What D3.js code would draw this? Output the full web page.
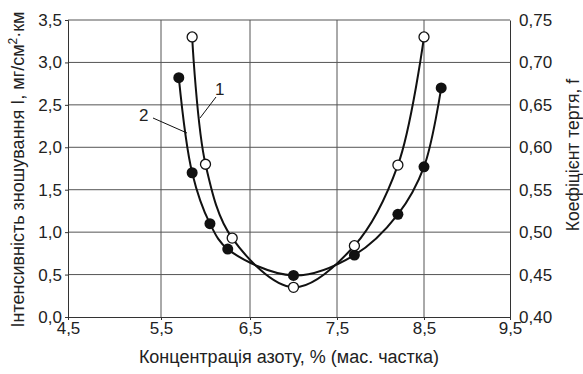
<!DOCTYPE html>
<html>
<head>
<meta charset="utf-8">
<script src="https://cdn.jsdelivr.net/npm/d3@7"></script>
<style>
  body { margin: 0; background: #fff; }
  text { font-family: "Liberation Sans", Arial, sans-serif; fill: #222; }
</style>
</head>
<body>
<svg id="chart" width="583" height="374"></svg>
<script>
// data
const xTicks = [4.5, 5.5, 6.5, 7.5, 8.5, 9.5];
const yTicks = [0, 0.5, 1.0, 1.5, 2.0, 2.5, 3.0, 3.5];
const fTicks = [0.40, 0.45, 0.50, 0.55, 0.60, 0.65, 0.70, 0.75];

// curve 1 (open circles)
const conc1 = [5.85, 6.0, 6.3, 7.0, 7.7, 8.2, 8.5];
const wear1 = [3.30, 1.80, 0.93, 0.35, 0.84, 1.79, 3.30];
// curve 2 (filled circles)
const conc2 = [5.7, 5.85, 6.05, 6.25, 7.0, 7.7, 8.2, 8.5, 8.7];
const wear2 = [2.82, 1.70, 1.10, 0.80, 0.49, 0.73, 1.21, 1.77, 2.70];

const svg = d3.select("#chart");
const margin = { left: 68, right: 73, top: 20, bottom: 57 };
const width = 583, height = 374;
const fmt = d => d3.format(".1f")(d).replace(".", ",");
const fmt2 = d => d3.format(".2f")(d).replace(".", ",");

// the source axis is not evenly spaced, so piecewise mapping
let x = d3.scaleLinear()
  .domain(xTicks)
  .range([68, 161, 250, 337, 424, 510]);
let y = d3.scaleLinear().domain([0, 3.5]).range([height - margin.bottom, margin.top]);
let yR = d3.scaleLinear().domain([0.40, 0.75]).range([height - margin.bottom, margin.top]);

// grid
let grid = svg.append("g").attr("stroke", "#555").attr("stroke-width", 1);
xTicks.slice(1, -1).forEach(t => {
  grid.append("line")
    .attr("x1", x(t)).attr("x2", x(t))
    .attr("y1", y(0)).attr("y2", y(3.5));
});
yTicks.slice(1).forEach(t => {
  grid.append("line")
    .attr("x1", x(4.5)).attr("x2", x(9.5))
    .attr("y1", y(t)).attr("y2", y(t));
});

// axes
let axLeft = svg.append("g")
  .attr("transform", `translate(${x(4.5)},0)`)
  .call(d3.axisLeft(y).tickValues(yTicks).tickFormat(fmt).tickSize(3).tickPadding(3));
let axRight = svg.append("g")
  .attr("transform", `translate(${x(9.5)},0)`)
  .call(d3.axisRight(yR).tickValues(fTicks).tickFormat(fmt2).tickSize(0).tickPadding(9));
let axBottom = svg.append("g")
  .attr("transform", `translate(0,${y(0)})`)
  .call(d3.axisBottom(x).tickValues(xTicks).tickFormat(fmt).tickSize(3).tickPadding(2));

[axLeft, axRight, axBottom].forEach(a => {
  a.select(".domain").attr("stroke", "#333");
  a.selectAll(".tick line").attr("stroke", "#333");
  a.selectAll("text")
    .style("font-family", "Liberation Sans, Arial, sans-serif")
    .style("font-size", "17px")
    .attr("fill", "#222");
});

// axis titles
svg.append("text")
  .attr("x", (x(4.5) + x(9.5)) / 2)
  .attr("y", 363)
  .attr("text-anchor", "middle")
  .style("font-size", "18px")
  .text("Концентрація азоту, % (мас. частка)");

svg.append("text")
  .attr("transform", `translate(24,${(y(0) + y(3.5)) / 2 + 1}) rotate(-90)`)
  .attr("text-anchor", "middle")
  .style("font-size", "18px")
  .html("Інтенсивність зношування І, мг/см<tspan baseline-shift='super' font-size='12px'>2</tspan>·км");

svg.append("text")
  .attr("transform", `translate(579,155) rotate(-90)`)
  .attr("text-anchor", "middle")
  .style("font-size", "17.5px")
  .text("Коефіцієнт тертя, f");

// curves
let lineGen = d3.line()
  .x(d => x(d[0]))
  .y(d => y(d[1]))
  .curve(d3.curveCatmullRom.alpha(0.5));

const pts1 = conc1.map((c, i) => [c, wear1[i]]);
const pts2 = conc2.map((c, i) => [c, wear2[i]]);

[pts1, pts2].forEach(p => {
  svg.append("path")
    .attr("d", lineGen(p))
    .attr("fill", "none")
    .attr("stroke", "#111")
    .attr("stroke-width", 2);
});

svg.append("g").selectAll("circle")
  .data(pts2)
  .join("circle")
  .attr("cx", d => x(d[0]))
  .attr("cy", d => y(d[1]))
  .attr("r", 5.5)
  .attr("fill", "#111");

svg.append("g").selectAll("circle")
  .data(pts1)
  .join("circle")
  .attr("cx", d => x(d[0]))
  .attr("cy", d => y(d[1]))
  .attr("r", 5)
  .attr("fill", "#fff")
  .attr("stroke", "#111")
  .attr("stroke-width", 1.3);

// curve labels with leader lines
let lbl = svg.append("g");
lbl.append("line")
  .attr("x1", 200).attr("y1", 118).attr("x2", 216).attr("y2", 97)
  .attr("stroke", "#111").attr("stroke-width", 1);
lbl.append("text").attr("x", 215).attr("y", 95).style("font-size", "17px").text("1");
lbl.append("line")
  .attr("x1", 153).attr("y1", 118).attr("x2", 187).attr("y2", 133)
  .attr("stroke", "#111").attr("stroke-width", 1);
lbl.append("text").attr("x", 139).attr("y", 121).style("font-size", "17px").text("2");
</script>
</body>
</html>
